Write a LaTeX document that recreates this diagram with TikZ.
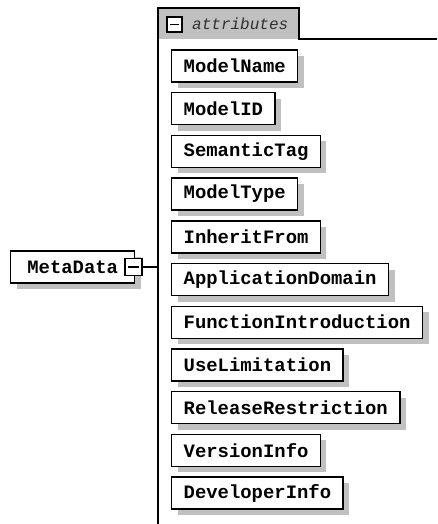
\documentclass[tikz,border=0pt]{standalone}
\usepackage{fontspec}
\usetikzlibrary{shadows}
\newfontfamily\monofont{Liberation Mono}
\definecolor{panelgray}{HTML}{C0C0C0}
\definecolor{labelgray}{HTML}{303030}
\begin{document}
\begin{tikzpicture}[x=1pt,y=-1pt,
  frameline/.style={line width=1.3pt, black},
  attrbox/.style={draw, line width=1.4pt, fill=white, anchor=west,
    minimum height=32pt, inner xsep=12pt, inner ysep=0pt,
    font=\monofont\fontsize{18.9}{20}\selectfont\bfseries,
    general shadow={fill=panelgray, shadow xshift=6pt, shadow yshift=-6pt}},
  minusbox/.style={draw, line width=1.3pt, fill=white, inner sep=0pt,
    minimum width=#1, minimum height=#1,
    path picture={\draw[line width=1.3pt]
      ([xshift=3pt]path picture bounding box.west) --
      ([xshift=-3pt]path picture bounding box.east);}}
]
\useasboundingbox (0,0) rectangle (437,524);

% attribute group: grey tab, trunk line and header rule
\fill[panelgray] (158,8) rectangle (299,39);
\coordinate (trunktop) at (158,8);
\coordinate (trunkbottom) at (158,524);
\coordinate (tabcorner) at (299,8);
\coordinate (tabfoot) at (299,39);
\coordinate (ruleend) at (437,39);
\draw[frameline] (trunkbottom) -- (trunktop) -- (tabcorner) -- (tabfoot) -- (ruleend);
\node[minusbox=15pt] (attrtoggle) at (174.5,24.5) {};
\node[anchor=west, inner sep=0pt, text=labelgray,
  font=\monofont\fontsize{16}{17}\selectfont\itshape] (attrlabel) at (192,24) {attributes};

% attribute entries
\node[attrbox] (a1)  at (171,66)    {ModelName};
\node[attrbox] (a2)  at (171,108.7) {ModelID};
\node[attrbox] (a3)  at (171,151.4) {SemanticTag};
\node[attrbox] (a4)  at (171,194.1) {ModelType};
\node[attrbox] (a5)  at (171,236.8) {InheritFrom};
\node[attrbox] (a6)  at (171,279.5) {ApplicationDomain};
\node[attrbox] (a7)  at (171,322.2) {FunctionIntroduction};
\node[attrbox] (a8)  at (171,364.9) {UseLimitation};
\node[attrbox] (a9)  at (171,407.6) {ReleaseRestriction};
\node[attrbox] (a10) at (171,450.3) {VersionInfo};
\node[attrbox] (a11) at (171,493)   {DeveloperInfo};

% root element with its collapse toggle
\node[attrbox, minimum width=124pt, inner xsep=0pt] (meta) at (10,267) {MetaData};
\node[minusbox=17pt] (metatoggle) at (133.5,267) {};
\coordinate (trunkjoin) at (158,267);
\draw[frameline] (metatoggle.east) -- (trunkjoin);
\end{tikzpicture}
\end{document}
